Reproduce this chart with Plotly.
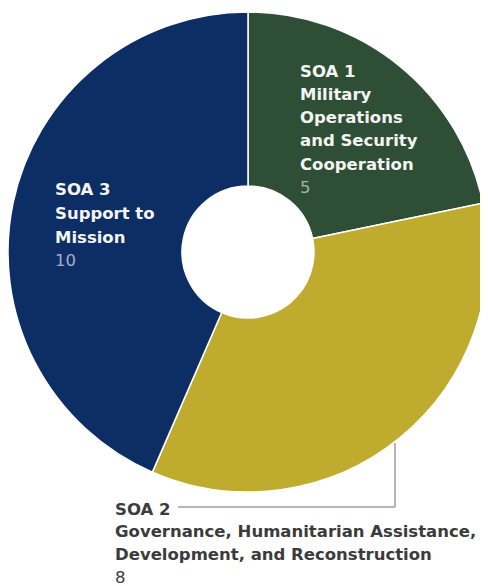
import plotly.graph_objects as go

# ---- data ----
soa_ids = ["SOA 1", "SOA 2", "SOA 3"]
soa_name_lines = [
    ["Military", "Operations", "and Security", "Cooperation"],
    ["Governance, Humanitarian Assistance,", "Development, and Reconstruction"],
    ["Support to", "Mission"],
]
soa_values = [5, 8, 10]

# ---- styles ----
slice_colors = ["#2e4f36", "#bfab2d", "#0c2e64"]
title_colors = ["#f4f4f2", "#3b3b3b", "#f4f4f2"]
value_colors = ["#a9b1a3", "#3b3b3b", "#a3aecb"]
# page body has an 8px margin, so the figure is drawn 8px in from the window edge
W, H = 480, 578
cx, cy, R = 240, 244, 240
FONT = "DejaVu Sans"
FS = 16.5

# label block placements (pixel: left x, first-line center y, line spacing)
label_pos = [(290, 63, 23.3), (105, 501, 22.8), (45, 182, 23.6)]

fig = go.Figure(
    go.Pie(
        labels=soa_ids,
        values=soa_values,
        sort=False,
        direction="clockwise",
        rotation=0,
        hole=66 / 240,
        marker=dict(colors=slice_colors, line=dict(color="white", width=1.5)),
        textinfo="none",
        hoverinfo="label+value",
        showlegend=False,
        domain=dict(x=[(cx - R) / W, (cx + R) / W], y=[1 - (cy + R) / H, 1 - (cy - R) / H]),
    )
)

annotations = []
for i, sid in enumerate(soa_ids):
    x0, y0, dy = label_pos[i]
    lines = [sid] + soa_name_lines[i] + [str(soa_values[i])]
    for j, line in enumerate(lines):
        is_val = j == len(lines) - 1
        annotations.append(
            dict(
                x=x0 / W,
                y=1 - (y0 + j * dy) / H,
                xref="paper",
                yref="paper",
                xanchor="left",
                yanchor="middle",
                showarrow=False,
                text=line if is_val else "<b>" + line + "</b>",
                font=dict(family=FONT, size=FS, color=value_colors[i] if is_val else title_colors[i]),
            )
        )

# connector for SOA 2
px = lambda v: v / W
py = lambda v: 1 - v / H
shapes = [
    dict(type="line", xref="paper", yref="paper", x0=px(387), y0=py(435), x1=px(387), y1=py(499),
         line=dict(color="#9c9c9c", width=1.5)),
    dict(type="line", xref="paper", yref="paper", x0=px(387), y0=py(499), x1=px(170), y1=py(499),
         line=dict(color="#9c9c9c", width=1.5)),
]

fig.update_layout(
    width=W,
    height=H,
    margin=dict(l=0, r=0, t=0, b=0),
    paper_bgcolor="white",
    plot_bgcolor="white",
    annotations=annotations,
    shapes=shapes,
)

fig.write_html("out.html")
